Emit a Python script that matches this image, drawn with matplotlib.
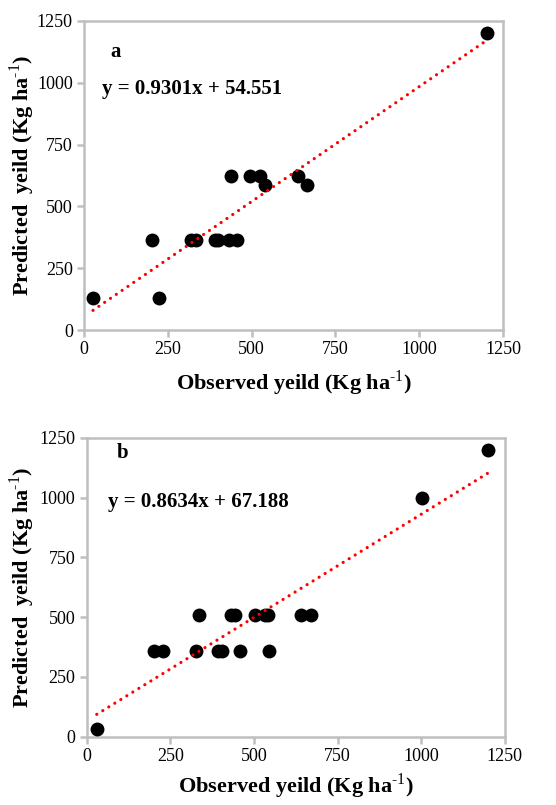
import numpy as np
import matplotlib
matplotlib.use('Agg')
import matplotlib.pyplot as plt

plt.rcParams['font.family'] = ['Liberation Serif', 'DejaVu Serif']
plt.rcParams['mathtext.fontset'] = 'custom'
plt.rcParams['mathtext.rm'] = 'Liberation Serif'
plt.rcParams['mathtext.bf'] = 'Liberation Serif:bold'

# panel a
obs_a = [27, 224, 204, 320, 335, 390, 400, 431, 456, 439, 496, 526, 541, 638, 665, 1202]
pred_a = [131, 131, 364, 366, 366, 366, 366, 366, 366, 624, 624, 624, 586, 624, 586, 1203]
slope_a, icpt_a = 0.9301, 54.551

# panel b
obs_b = [30, 202, 229, 326, 393, 403, 458, 544, 336, 431, 443, 502, 532, 541, 642, 670, 1001, 1200]
pred_b = [30, 359, 359, 359, 359, 359, 359, 359, 507, 507, 507, 507, 507, 507, 507, 507, 997, 1200]
slope_b, icpt_b = 0.8634, 67.188

ticks = [0, 250, 500, 750, 1000, 1250]
grey = '#BFBFBF'

fig = plt.figure(figsize=(5.56, 8.05), dpi=100)
ax_a = fig.add_axes([0.151, 0.590, 0.754, 0.384])
ax_b = fig.add_axes([0.156, 0.085, 0.752, 0.371])


def draw_panel(ax, x, y, slope, icpt, tag, tag_pos, eq_pos, xlab_y, ylab_x):
    x = np.asarray(x, dtype=float)
    y = np.asarray(y, dtype=float)
    ax.scatter(x, y, s=100, color='black', zorder=3, linewidths=0)
    xl = np.array([x.min(), x.max()])
    ax.plot(xl, slope * xl + icpt, color='red', lw=2.3,
            linestyle=(0, (0.01, 2.2)), dash_capstyle='round', zorder=4)
    ax.set_xlim(0, 1250)
    ax.set_ylim(0, 1250)
    ax.set_xticks(ticks)
    ax.set_yticks(ticks)
    for sp in ax.spines.values():
        sp.set_color(grey)
        sp.set_linewidth(1.8)
    ax.tick_params(direction='out', length=5, width=1.8, color=grey,
                   labelsize=13, pad=3)
    ax.set_xlabel(r'Observed yeild (Kg ha$^{\text{-1}}$)', fontsize=16,
                  fontweight='bold', va='center')
    ax.set_ylabel(r'Predicted  yeild (Kg ha$^{\text{-1}}$)', fontsize=16,
                  fontweight='bold', va='center')
    ax.xaxis.set_label_coords(0.5, xlab_y)
    ax.yaxis.set_label_coords(ylab_x, 0.5)
    ax.text(tag_pos[0], tag_pos[1], tag, transform=ax.transAxes,
            fontsize=15, fontweight='bold', va='center')
    ax.text(eq_pos[0], eq_pos[1], 'y = %.4fx + %.3f' % (slope, icpt),
            transform=ax.transAxes, fontsize=15, fontweight='bold', va='center')


draw_panel(ax_a, obs_a, pred_a, slope_a, icpt_a, 'a', (0.062, 0.90), (0.043, 0.78),
           -0.172, -0.148)
draw_panel(ax_b, obs_b, pred_b, slope_b, icpt_b, 'b', (0.072, 0.95), (0.05, 0.785),
           -0.165, -0.155)

fig.savefig('out.png', dpi=100)
